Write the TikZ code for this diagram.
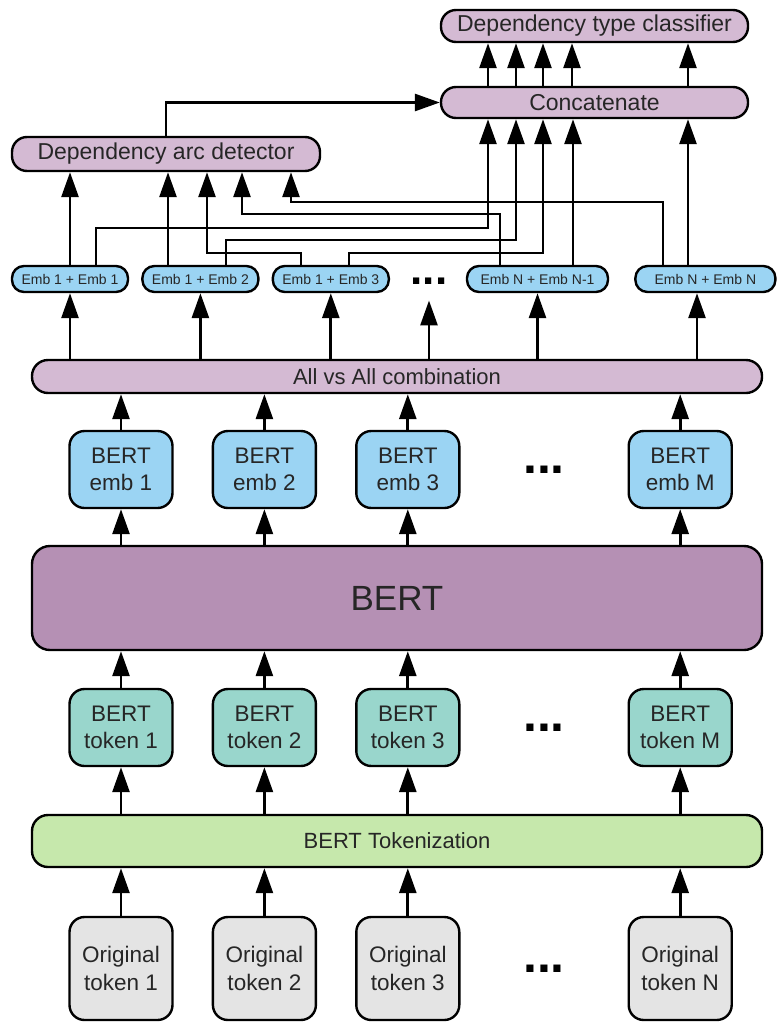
\documentclass[tikz,border=0pt]{standalone}
\usepackage{fontspec}
\setmainfont{Liberation Sans}
\usetikzlibrary{arrows.meta, positioning, calc}

\definecolor{lilac}{RGB}{212,186,211}
\definecolor{plum}{RGB}{181,144,180}
\definecolor{skyblue}{RGB}{155,212,243}
\definecolor{tokteal}{RGB}{153,214,204}
\definecolor{limegreen}{RGB}{198,232,172}
\definecolor{greybox}{RGB}{228,228,228}

\begin{document}
\begin{tikzpicture}[
            x=1pt, y=-1pt,
            node distance=38pt,
            every node/.style={font=\fontsize{22.5}{27.5}\selectfont, text=black!85},
            box/.style={draw, line width=2.4pt, rounded corners=15pt, minimum width=103pt, minimum height=77pt, align=center, inner sep=0pt},
            bar/.style={draw, line width=2.4pt, rounded corners=16pt, minimum width=730pt, align=center, font=\fontsize{22}{26}\selectfont},
            pair/.style={draw, line width=2.4pt, rounded corners=12pt, minimum height=26pt, inner sep=0pt, fill=skyblue, font=\fontsize{14}{16}\selectfont},
            pill/.style={draw, line width=2.4pt, rounded corners=15pt, minimum width=307pt, minimum height=32pt, fill=lilac, font=\fontsize{23}{27}\selectfont},
            dots/.style={font=\bfseries\fontsize{50}{52}\selectfont, inner sep=0pt, text=black},
            arrow/.style={-{Triangle[length=25pt, width=17pt]}, line width=2.8pt}
        ]
        \useasboundingbox (0,0) rectangle (781,1023);

        % Original tokens
        \node[box, fill=greybox, minimum height=103pt] (orig1) at (121,968.5) {Original\\token 1};
        \node[box, fill=greybox, minimum height=103pt, right=of orig1] (orig2) {Original\\token 2};
        \node[box, fill=greybox, minimum height=103pt, right=of orig2] (orig3) {Original\\token 3};
        \node[box, fill=greybox, minimum height=103pt, right=167pt of orig3] (origN) {Original\\token N};
        \node[dots] (odots) at ($(orig3)!.5!(origN)$) {...};

        % Tokenization
        \node[bar, fill=limegreen, minimum height=52pt] (tokz) at (397,841) {BERT Tokenization};

        % BERT tokens
        \node[box, fill=tokteal] (btok1) at (121,727.5) {BERT\\token 1};
        \node[box, fill=tokteal, right=of btok1] (btok2) {BERT\\token 2};
        \node[box, fill=tokteal, right=of btok2] (btok3) {BERT\\token 3};
        \node[box, fill=tokteal, right=167pt of btok3] (btokM) {BERT\\token M};
        \node[dots] (tdots) at ($(btok3)!.5!(btokM)$) {...};

        % BERT
        \node[bar, fill=plum, minimum height=104pt, rounded corners=18pt, font=\fontsize{35}{40}\selectfont] (bert) at (397,598) {BERT};

        % BERT embeddings
        \node[box, fill=skyblue] (bemb1) at (121,469.5) {BERT\\emb 1};
        \node[box, fill=skyblue, right=of bemb1] (bemb2) {BERT\\emb 2};
        \node[box, fill=skyblue, right=of bemb2] (bemb3) {BERT\\emb 3};
        \node[box, fill=skyblue, right=167pt of bemb3] (bembM) {BERT\\emb M};
        \node[dots] (bdots) at ($(bemb3)!.5!(bembM)$) {...};

        % All vs All
        \node[bar, fill=lilac, minimum height=33pt] (allvs) at (397,376.5) {All vs All combination};

        % Embedding pairs
        \node[pair, minimum width=116pt] (e11) at (70,279) {Emb 1 + Emb 1};
        \node[pair, minimum width=116pt, right=12pt of e11] (e12) {Emb 1 + Emb 2};
        \node[pair, minimum width=116pt, right=12pt of e12] (e13) {Emb 1 + Emb 3};
        \node[pair, minimum width=141pt] (eNN1) at (537.5,279) {Emb N + Emb N-1};
        \node[pair, minimum width=140pt, right=25pt of eNN1] (eNN) {Emb N + Emb N};
        \node[dots, font=\bfseries\fontsize{44}{46}\selectfont] (edots) at (429,281) {...};

        % Heads
        \node[pill, minimum width=308pt, minimum height=34pt] (arc) at (166,154) {Dependency arc detector};
        \node[pill, minimum height=31pt] (concat) at (594.5,102.5) {Concatenate};
        \node[pill] (cls) at (594.5,26) {Dependency type classifier};

        % Arrows, lower part
        \foreach \i in {1,2,3,N}
            \draw[arrow] (orig\i.north) -- (orig\i.north |- tokz.south);
        \foreach \i in {1,2,3,M} {
            \draw[arrow] (btok\i.south |- tokz.north) -- (btok\i.south);
            \draw[arrow] (btok\i.north) -- (btok\i.north |- bert.south);
            \draw[arrow] (bemb\i.south |- bert.north) -- (bemb\i.south);
            \draw[arrow] (bemb\i.north) -- (bemb\i.north |- allvs.south);
        }
        \foreach \n in {e11,e12,e13,eNN1}
            \draw[arrow] (allvs.north -| \n) -- (\n.south);
        \draw[arrow] (697,0 |- allvs.north) -- (697,0 |- eNN.south);
        \draw[arrow] (allvs.north -| edots) -- ([yshift=-16pt]edots.south);

        % Pairs to the arc detector
        \draw[arrow] (e11.north) -- (e11.north |- arc.south);
        \draw[arrow] (168,0 |- e12.north) -- (168,0 |- arc.south);
        \draw[arrow] (301,0 |- e13.north) |- (207,253) -- (207,0 |- arc.south);
        \draw[arrow] (500,0 |- eNN1.north) |- (242,214) -- (242,0 |- arc.south);
        \draw[arrow] (663,0 |- eNN.north) |- (291,202) -- (291,0 |- arc.south);

        % Pairs to concatenate
        \draw[arrow] (96,0 |- e11.north) |- (488,228) -- (488,0 |- concat.south);
        \draw[arrow] (226,0 |- e12.north) |- (516,240) -- (516,0 |- concat.south);
        \draw[arrow] (349,0 |- e13.north) |- (543,253) -- (543,0 |- concat.south);
        \draw[arrow] (573,0 |- eNN1.north) -- (573,0 |- concat.south);
        \draw[arrow] (688,0 |- eNN.north) -- (688,0 |- concat.south);

        % Heads
        \draw[arrow] (arc.north) |- (concat.west);
        \foreach \px in {488,516,543,572,688}
            \draw[arrow] (\px,0 |- concat.north) -- (\px,0 |- cls.south);

    \end{tikzpicture}
\end{document}
